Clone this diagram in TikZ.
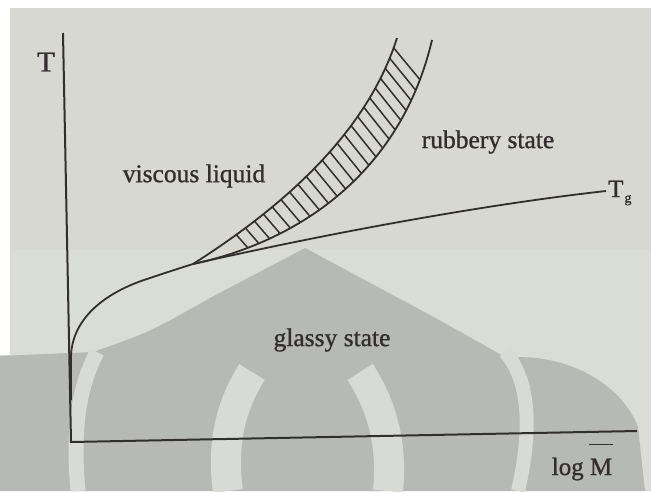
\documentclass[tikz,border=0pt]{standalone}
\usepackage{fontspec}
\setmainfont[FakeBold=1]{Liberation Serif}
\definecolor{paper}{HTML}{D6D8D1}
\definecolor{paperlow}{HTML}{DADCD6}
\definecolor{markgray}{HTML}{B7B9B4}
\definecolor{marklight}{HTML}{D8DAD5}
\definecolor{ink}{HTML}{332E2E}
\begin{document}
\begin{tikzpicture}[x=1pt,y=-1pt,
  axisline/.style={draw=ink, line width=2pt},
  curveline/.style={draw=ink, line width=1.8pt},
  hatchline/.style={draw=ink, line width=1.5pt},
  statelabel/.style={text=ink, font=\fontsize{25.5}{26}\selectfont, inner sep=0pt},
  axislabel/.style={text=ink, inner sep=0pt}]
\useasboundingbox (0,0) rectangle (651,491);
% paper and watermark
\fill[white] (0,0) rectangle (651,491);
\fill[paper] (10,8) rectangle (651,491);
\fill[paperlow] (10,250) rectangle (651,491);
\fill[paper] (0,355) rectangle (10,491);
\fill[markgray] (0,356) -- (93,352) .. controls (150,332) .. (210,298) -- (305,248) -- (430,315) -- (507,358)
  .. controls (560,352) and (620,380) .. (638,427) -- (645,491) -- (0,491) -- cycle;
\draw[marklight, line width=15pt] (97,352) .. controls (80,385) and (72,425) .. (78,491);
\draw[marklight, line width=30pt] (252,372) .. controls (228,410) and (222,450) .. (228,491);
\draw[marklight, line width=30pt] (360,372) .. controls (385,410) and (392,450) .. (388,491);
\draw[marklight, line width=14pt] (505,352) .. controls (530,380) and (532,430) .. (518,491);
% axes
\coordinate (ytop) at (63,33);
\coordinate (origin) at (71,442);
\coordinate (xend) at (637,431);
\draw[axisline] (ytop) -- (origin) -- (xend);
% glass transition curve
\coordinate (gstart) at (71,400);
\coordinate (gbend) at (71,355);
\coordinate (J) at (193,264);
\coordinate (tgend) at (606,191);
\draw[curveline] (gstart) -- (gbend) .. controls (73,318) and (105,292) .. (150,278)
  .. controls (165,273) and (180,268) .. (J)
  .. controls (320,235) and (480,205) .. (tgend);
% band edges
\coordinate (ltop) at (397,38);
\coordinate (rtop) at (432,40);
\draw[curveline] (J) .. controls (278,210) and (366,136) .. (ltop);
\draw[curveline] (J) .. controls (305,240) and (402,168) .. (rtop);
% hatching
\foreach \i in {0,...,22}{
  \pgfmathsetmacro{\tl}{0.17+\i*0.0362}
  \pgfmathsetmacro{\tr}{\tl*(1-0.08*\tl)}
  \path (J) .. controls (278,210) and (366,136) .. (ltop) coordinate[pos=\tl] (hl\i);
  \path (J) .. controls (305,240) and (402,168) .. (rtop) coordinate[pos=\tr] (hr\i);
  \draw[hatchline] (hl\i) -- (hr\i);
}
% labels
\node[axislabel, font=\fontsize{29}{30}\selectfont] (tlabel) at (46,62) {T};
\node[axislabel, font=\fontsize{25}{26}\selectfont, anchor=west] (tglabel) at (608,193) {T\kern1pt\raisebox{-0.45ex}{\fontsize{14}{14}\selectfont g}};
\node[axislabel, font=\fontsize{25}{26}\selectfont, anchor=base] (mlabel) at (582,475) {log \ooalign{M\cr\hidewidth\rule[1.2em]{0.95em}{1.4pt}\hidewidth\cr}};
\node[statelabel] (viscous) at (194,176) {viscous liquid};
\node[statelabel] (rubbery) at (488,142) {rubbery state};
\node[statelabel] (glassy) at (332,340) {glassy state};
\end{tikzpicture}
\end{document}
